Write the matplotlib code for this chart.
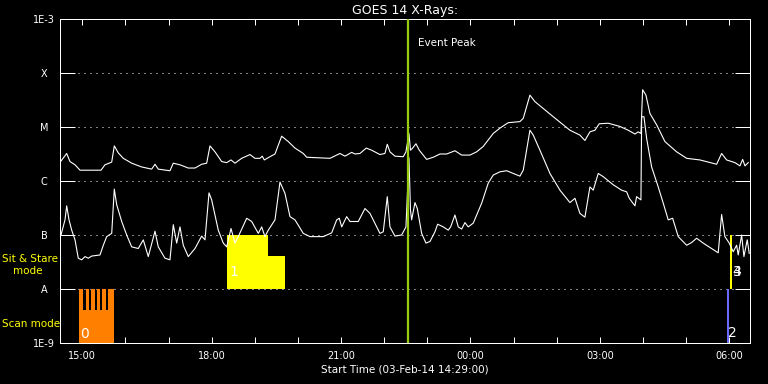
import matplotlib
matplotlib.use("Agg")
import matplotlib.pyplot as plt
import numpy as np

# time axis: hours since start time 03-Feb-14 14:29:00
# flux values are log10(W/m^2)

# GOES 14 long channel (1-8 A)
long_t = [0.023, 0.155, 0.232, 0.348, 0.464, 0.656, 0.951, 1.043, 1.199, 1.259,
          1.352, 1.468, 1.662, 1.894, 2.126, 2.203, 2.279, 2.550, 2.627, 2.782,
          2.975, 3.130, 3.285, 3.401, 3.478, 3.594, 3.749, 3.865, 3.965, 4.057,
          4.213, 4.405, 4.521, 4.637, 4.690, 4.737, 4.869, 4.985, 5.140, 5.293,
          5.449, 5.641, 5.720, 6.260, 6.492, 6.608, 6.763, 6.840, 6.956, 7.102,
          7.227, 7.419, 7.535, 7.589, 7.651, 7.767, 7.960, 8.022, 8.092, 8.127,
          8.178, 8.254, 8.331, 8.502, 8.655, 8.811, 8.966, 9.158, 9.314, 9.506,
          9.661, 9.814, 10.046, 10.202, 10.394, 10.665, 10.742, 10.897, 11.013, 11.361,
          11.438, 11.825, 12.056, 12.172, 12.288, 12.404, 12.504, 12.713, 12.984, 13.176,
          13.332, 13.408, 13.471, 13.510, 13.587, 13.680, 13.835, 14.027, 14.299, 14.531,
          14.839, 15.226, 15.342, 15.458, 15.651, 15.767, 15.830, 15.883, 15.959]
long_log = [-5.63, -5.49, -5.64, -5.70, -5.80, -5.80, -5.80, -5.70, -5.65, -5.35,
            -5.48, -5.58, -5.67, -5.74, -5.78, -5.69, -5.78, -5.81, -5.67, -5.70,
            -5.76, -5.76, -5.69, -5.67, -5.35, -5.46, -5.64, -5.66, -5.61, -5.67,
            -5.58, -5.51, -5.58, -5.58, -5.54, -5.61, -5.55, -5.50, -5.17, -5.27,
            -5.39, -5.49, -5.56, -5.58, -5.49, -5.54, -5.47, -5.50, -5.49, -5.39,
            -5.43, -5.51, -5.49, -5.32, -5.46, -5.54, -5.55, -5.46, -5.12, -5.43,
            -5.39, -5.31, -5.43, -5.60, -5.56, -5.50, -5.50, -5.44, -5.52, -5.52,
            -5.46, -5.36, -5.12, -5.02, -4.92, -4.90, -4.84, -4.41, -4.53, -4.76,
            -4.81, -5.06, -5.15, -5.25, -5.09, -5.06, -4.94, -4.93, -4.99, -5.06,
            -5.13, -5.09, -5.12, -4.31, -4.41, -4.75, -4.96, -5.27, -5.46, -5.58,
            -5.61, -5.69, -5.49, -5.61, -5.66, -5.72, -5.60, -5.72, -5.66]

# GOES 14 short channel (0.5-4 A)
short_t = [0.023, 0.116, 0.155, 0.209, 0.271, 0.348, 0.424, 0.503, 0.580, 0.656,
           0.735, 0.927, 1.004, 1.083, 1.199, 1.259, 1.315, 1.431, 1.546, 1.662,
           1.815, 1.931, 2.047, 2.203, 2.279, 2.434, 2.550, 2.627, 2.706, 2.782,
           2.859, 2.975, 3.130, 3.285, 3.362, 3.455, 3.517, 3.670, 3.786, 3.865,
           3.965, 4.057, 4.134, 4.329, 4.445, 4.598, 4.677, 4.753, 4.830, 4.985,
           5.101, 5.217, 5.333, 5.449, 5.641, 5.796, 6.105, 6.300, 6.416, 6.476,
           6.532, 6.647, 6.724, 6.916, 7.072, 7.188, 7.419, 7.496, 7.589, 7.651,
           7.767, 7.922, 8.022, 8.092, 8.127, 8.154, 8.231, 8.285, 8.386, 8.486,
           8.579, 8.695, 8.757, 8.887, 9.003, 9.059, 9.158, 9.235, 9.314, 9.390,
           9.467, 9.583, 9.778, 9.930, 10.046, 10.202, 10.357, 10.510, 10.665, 10.742,
           10.897, 10.974, 11.129, 11.361, 11.593, 11.825, 11.941, 12.056, 12.172, 12.288,
           12.365, 12.481, 12.597, 12.829, 13.023, 13.139, 13.200, 13.332, 13.371, 13.471,
           13.488, 13.541, 13.603, 13.719, 13.872, 13.988, 14.104, 14.206, 14.336, 14.531,
           14.646, 14.762, 14.915, 15.263, 15.342, 15.418, 15.518, 15.611, 15.690, 15.727,
           15.806, 15.859, 15.936, 15.982]
short_log = [-7.00, -6.72, -6.46, -6.72, -6.91, -7.09, -7.43, -7.46, -7.40, -7.43,
             -7.39, -7.37, -7.19, -7.03, -6.97, -6.15, -6.44, -6.75, -7.00, -7.22,
             -7.25, -7.09, -7.40, -6.93, -7.22, -7.43, -7.46, -6.81, -7.15, -6.85,
             -7.19, -7.40, -7.25, -7.02, -7.09, -6.22, -6.35, -6.91, -7.15, -7.22,
             -6.88, -7.15, -7.03, -6.69, -6.75, -6.97, -6.85, -7.03, -6.91, -6.72,
             -6.02, -6.23, -6.66, -6.72, -6.97, -7.03, -7.03, -6.96, -6.72, -6.69,
             -6.85, -6.66, -6.75, -6.75, -6.51, -6.60, -6.97, -6.94, -6.29, -6.85,
             -7.02, -7.00, -6.85, -5.57, -6.54, -6.72, -6.40, -6.51, -6.97, -7.15,
             -7.12, -6.94, -6.80, -6.85, -6.91, -6.85, -6.63, -6.85, -6.89, -6.77,
             -6.85, -6.78, -6.41, -6.04, -5.89, -5.83, -5.81, -5.86, -5.91, -5.80,
             -5.06, -5.15, -5.43, -5.86, -6.17, -6.40, -6.32, -6.60, -6.67, -6.11,
             -6.17, -5.86, -5.92, -6.07, -6.17, -6.20, -6.32, -6.46, -6.29, -6.35,
             -4.81, -4.81, -5.21, -5.74, -6.11, -6.41, -6.72, -6.69, -7.03, -7.19,
             -7.14, -7.06, -7.15, -7.33, -6.62, -7.03, -7.15, -7.31, -7.19, -7.37,
             -7.00, -7.40, -7.09, -7.34]

class_labels = ["1E-9", "A", "B", "C", "M", "X", "1E-3"]
class_exp = [-9, -8, -7, -6, -5, -4, -3]
hour_labels = ["15:00", "18:00", "21:00", "00:00", "03:00", "06:00"]
first_hour = 31 / 60.0   # 15:00 relative to 14:29
span_hours = 16.0

event_peak_t = 8.062

# IRIS observation bars
scan_t0 = [0.441, 0.596, 0.719, 0.851, 0.981, 1.120, 0.441, 15.468]
scan_t1 = [0.540, 0.672, 0.805, 0.934, 1.067, 1.252, 1.252, 15.522]
scan_top = [-8.0, -8.0, -8.0, -8.0, -8.0, -8.0, -8.39, -8.0]
scan_col = ["#ff8000"] * 7 + ["#6a6aff"]

sit_t0 = [3.872, 4.816, 15.545]
sit_t1 = [4.816, 5.210, 15.585]
sit_top = [-7.0, -7.38, -7.0]

obs_ids = ["0", "1", "2", "3", "4"]
obs_t = [0.47, 3.93, 15.50, 15.60, 15.60]
obs_log = [-8.83, -7.68, -8.81, -7.68, -7.68]

fig = plt.figure(figsize=(7.68, 3.84), dpi=100, facecolor="black")
ax = fig.add_axes([60 / 768, 41 / 384, 690 / 768, 324 / 384])
ax.set_facecolor("black")
ax.set_yscale("log")

for lev in class_exp[1:-1]:
    ax.axhline(10.0 ** lev, color="white", lw=0.72, ls=(0, (1, 5)), zorder=1)

for a, b, top, c in zip(scan_t0, scan_t1, scan_top, scan_col):
    ax.bar(a, 10.0 ** top - 1e-9, width=b - a, bottom=1e-9, align="edge",
           color=c, linewidth=0, zorder=2)
for a, b, top in zip(sit_t0, sit_t1, sit_top):
    ax.bar(a, 10.0 ** top - 1e-8, width=b - a, bottom=1e-8, align="edge",
           color="#ffff00", linewidth=0, zorder=2)

ax.plot(long_t, 10.0 ** np.array(long_log), color="white", lw=0.8, zorder=3)
ax.plot(short_t, 10.0 ** np.array(short_log), color="white", lw=0.8, zorder=3)

for s, t, v in zip(obs_ids, obs_t, obs_log):
    ax.text(t, 10.0 ** v, s, color="white", fontsize=10, ha="left", va="center", zorder=4)

ax.axvline(event_peak_t, color="#99cc11", lw=1.6, zorder=5)
ax.text(event_peak_t + 0.25, 10 ** -3.45, "Event Peak", color="white", fontsize=7.5,
        ha="left", va="center")

ax.set_xlim(0, span_hours)
ax.set_ylim(1e-9, 1e-3)
ax.set_xticks(first_hour + 3 * np.arange(len(hour_labels)))
ax.set_xticklabels(hour_labels)
ax.set_xticks(first_hour + np.arange(16), minor=True)
ax.set_yticks([10.0 ** e for e in class_exp])
ax.set_yticklabels(class_labels)
ax.yaxis.set_minor_locator(matplotlib.ticker.NullLocator())

ax.tick_params(axis="x", which="both", direction="in", top=True, bottom=True,
               length=4.3, width=0.72, color="white", labelcolor="white",
               labelsize=7, pad=6)
ax.tick_params(axis="y", which="major", direction="in", left=True, right=True,
               length=10.5, width=0.72, color="white", labelcolor="white",
               labelsize=7, pad=11.5)
for lab in ax.get_yticklabels():
    lab.set_horizontalalignment("center")

for sp in ax.spines.values():
    sp.set_color("white")
    sp.set_linewidth(0.72)

ax.set_title("GOES 14 X-Rays:", color="white", fontsize=9, pad=3.5)
ax.set_xlabel("Start Time (03-Feb-14 14:29:00)", color="white", fontsize=7.5, labelpad=2)

fig.text(2 / 768, 1 - 259 / 384, "Sit & Stare", color="#ffff00", fontsize=7.5,
         ha="left", va="center")
fig.text(13 / 768, 1 - 271 / 384, "mode", color="#ffff00", fontsize=7.5,
         ha="left", va="center")
fig.text(2 / 768, 1 - 324 / 384, "Scan mode", color="#ffff00", fontsize=7.5,
         ha="left", va="center")

fig.savefig("out.png", dpi=100, facecolor="black")
